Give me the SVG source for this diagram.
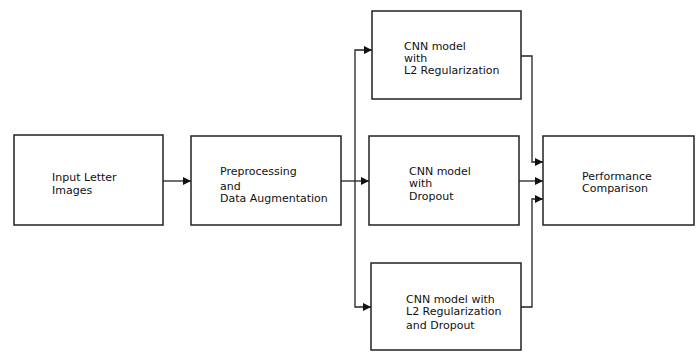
<svg xmlns="http://www.w3.org/2000/svg" width="700" height="352" viewBox="0 0 700 352">
<style>
.box{fill:#fff;stroke:#222;stroke-width:1.5}
.ln{fill:none;stroke:#222;stroke-width:1.3}
text{font-family:"DejaVu Sans",Verdana,sans-serif;font-size:11px;fill:#111}
</style>
<defs>
<marker id="ah" viewBox="0 0 8 8" refX="8" refY="4" markerWidth="8" markerHeight="8" markerUnits="userSpaceOnUse" orient="auto">
<path d="M0,0 L8,4 L0,8 Z" fill="#111"/>
</marker>
</defs>
<rect width="700" height="352" fill="#fff"/>
<g id="connectors">
<path class="ln" d="M163,181 H191" marker-end="url(#ah)"/>
<path class="ln" d="M341,181 H369" marker-end="url(#ah)"/>
<path class="ln" d="M355,181 V50 H372" marker-end="url(#ah)"/>
<path class="ln" d="M355,181 V307 H371" marker-end="url(#ah)"/>
<path class="ln" d="M521,56 H532 V162 H543" marker-end="url(#ah)"/>
<path class="ln" d="M519,181 H543" marker-end="url(#ah)"/>
<path class="ln" d="M521,307 H532 V199 H543" marker-end="url(#ah)"/>
</g>
<g id="input">
<rect class="box" x="14" y="135" width="149" height="90"/>
<text x="52" y="181">Input Letter</text>
<text x="52" y="194">Images</text>
</g>
<g id="preprocessing">
<rect class="box" x="191" y="136" width="150" height="89"/>
<text x="220" y="175">Preprocessing</text>
<text x="220" y="190">and</text>
<text x="220" y="202">Data Augmentation</text>
</g>
<g id="cnn-l2">
<rect class="box" x="372" y="11" width="149" height="88"/>
<text x="404" y="50">CNN model</text>
<text x="404" y="62">with</text>
<text x="404" y="74">L2 Regularization</text>
</g>
<g id="cnn-dropout">
<rect class="box" x="369" y="136" width="150" height="89"/>
<text x="409" y="175">CNN model</text>
<text x="409" y="187">with</text>
<text x="409" y="200">Dropout</text>
</g>
<g id="cnn-l2-dropout">
<rect class="box" x="371" y="263" width="150" height="87"/>
<text x="406" y="303">CNN model with</text>
<text x="406" y="315">L2 Regularization</text>
<text x="406" y="329">and Dropout</text>
</g>
<g id="performance">
<rect class="box" x="543" y="136" width="151" height="89"/>
<text x="582" y="180">Performance</text>
<text x="582" y="192">Comparison</text>
</g>
</svg>
